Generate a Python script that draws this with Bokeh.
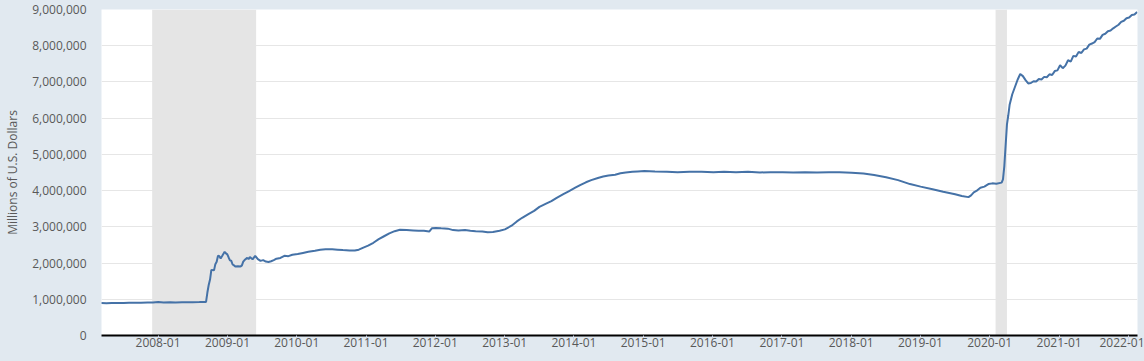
import pandas as pd
from bokeh.plotting import figure
from bokeh.models import (Range1d, FixedTicker, DatetimeTickFormatter,
                          NumeralTickFormatter, BoxAnnotation)
from bokeh.embed import file_html
from bokeh.resources import INLINE

# ---------------- data ----------------
dates = [
    "2007-03-07", "2007-04-04", "2007-05-02", "2007-06-06", "2007-07-04", "2007-08-01",
    "2007-08-29", "2007-10-03", "2007-11-07", "2007-12-05", "2008-01-02", "2008-01-30",
    "2008-03-05", "2008-04-02", "2008-05-07", "2008-06-04", "2008-07-02", "2008-08-06",
    "2008-09-10", "2008-09-17", "2008-09-24", "2008-10-01", "2008-10-08", "2008-10-22",
    "2008-10-29", "2008-11-05", "2008-11-12", "2008-11-19", "2008-11-26", "2008-12-03",
    "2008-12-10", "2008-12-17", "2008-12-24", "2008-12-31", "2009-01-07", "2009-01-14",
    "2009-01-21", "2009-01-28", "2009-02-04", "2009-02-11", "2009-02-25", "2009-03-11",
    "2009-03-18", "2009-03-25", "2009-04-01", "2009-04-15", "2009-04-22", "2009-04-29",
    "2009-05-13", "2009-05-27", "2009-06-10", "2009-06-24", "2009-07-08", "2009-07-22",
    "2009-08-05", "2009-08-19", "2009-09-02", "2009-09-16", "2009-10-07", "2009-10-28",
    "2009-11-18", "2009-12-09", "2010-01-06", "2010-02-03", "2010-03-03", "2010-04-07",
    "2010-05-05", "2010-06-02", "2010-07-07", "2010-08-04", "2010-09-01", "2010-10-06",
    "2010-11-03", "2010-11-24", "2010-12-15", "2011-01-12", "2011-02-09", "2011-03-09",
    "2011-04-06", "2011-05-04", "2011-06-01", "2011-06-29", "2011-08-03", "2011-09-07",
    "2011-10-05", "2011-11-02", "2011-11-30", "2011-12-14", "2012-01-04", "2012-02-01",
    "2012-03-07", "2012-04-04", "2012-05-02", "2012-06-06", "2012-07-04", "2012-08-01",
    "2012-09-05", "2012-10-03", "2012-10-31", "2012-12-05", "2013-01-02", "2013-02-06",
    "2013-03-06", "2013-04-03", "2013-05-08", "2013-06-05", "2013-07-03", "2013-08-07",
    "2013-09-04", "2013-10-02", "2013-11-06", "2013-12-04", "2014-01-08", "2014-02-05",
    "2014-03-05", "2014-04-02", "2014-05-07", "2014-06-04", "2014-07-02", "2014-08-06",
    "2014-09-03", "2014-10-01", "2014-11-05", "2014-12-03", "2015-01-07", "2015-03-04",
    "2015-05-06", "2015-07-01", "2015-09-02", "2015-11-04", "2016-01-06", "2016-03-02",
    "2016-05-04", "2016-07-06", "2016-09-07", "2016-11-02", "2017-01-04", "2017-03-01",
    "2017-05-03", "2017-07-05", "2017-09-06", "2017-11-01", "2018-01-03", "2018-03-07",
    "2018-05-02", "2018-07-04", "2018-09-05", "2018-11-07", "2019-01-02", "2019-03-06",
    "2019-05-01", "2019-07-03", "2019-08-07", "2019-09-11", "2019-09-25", "2019-10-09",
    "2019-10-23", "2019-11-13", "2019-12-04", "2019-12-25", "2020-01-15", "2020-02-05",
    "2020-03-04", "2020-03-11", "2020-03-18", "2020-03-25", "2020-04-01", "2020-04-08",
    "2020-04-15", "2020-04-29", "2020-05-13", "2020-05-27", "2020-06-10", "2020-06-24",
    "2020-07-08", "2020-07-22", "2020-08-05", "2020-08-19", "2020-09-02", "2020-09-16",
    "2020-09-30", "2020-10-14", "2020-10-28", "2020-11-11", "2020-11-25", "2020-12-09",
    "2020-12-23", "2021-01-06", "2021-01-20", "2021-02-03", "2021-02-17", "2021-03-03",
    "2021-03-17", "2021-03-31", "2021-04-14", "2021-04-28", "2021-05-12", "2021-05-26",
    "2021-06-09", "2021-06-23", "2021-07-07", "2021-07-21", "2021-08-04", "2021-08-18",
    "2021-09-01", "2021-09-15", "2021-09-29", "2021-10-13", "2021-10-27", "2021-11-10",
    "2021-11-24", "2021-12-08", "2021-12-22", "2022-01-05", "2022-01-19", "2022-02-02",
    "2022-02-16",
]
values = [
    895000, 893000, 898000, 900000, 897000, 902000,
    905000, 903000, 908000, 912000, 925000, 912000,
    915000, 912000, 917000, 915000, 920000, 922000,
    928000, 1186000, 1393000, 1543000, 1812000, 1799000,
    1970000, 2034000, 2204000, 2187000, 2130000, 2187000,
    2250000, 2310000, 2268000, 2241000, 2154000, 2075000,
    2062000, 1960000, 1938000, 1903000, 1913000, 1904000,
    1936000, 2038000, 2083000, 2143000, 2109000, 2165000,
    2104000, 2200000, 2108000, 2060000, 2080000, 2040000,
    2030000, 2050000, 2080000, 2120000, 2140000, 2200000,
    2190000, 2230000, 2250000, 2280000, 2310000, 2340000,
    2370000, 2380000, 2380000, 2370000, 2360000, 2350000,
    2345000, 2370000, 2420000, 2480000, 2560000, 2660000,
    2740000, 2820000, 2880000, 2920000, 2910000, 2900000,
    2890000, 2890000, 2870000, 2960000, 2970000, 2960000,
    2950000, 2910000, 2900000, 2910000, 2890000, 2880000,
    2870000, 2850000, 2860000, 2890000, 2930000, 3030000,
    3150000, 3250000, 3360000, 3440000, 3550000, 3640000,
    3710000, 3800000, 3900000, 3980000, 4080000, 4160000,
    4230000, 4290000, 4350000, 4390000, 4420000, 4440000,
    4480000, 4500000, 4520000, 4530000, 4540000, 4530000,
    4520000, 4510000, 4520000, 4520000, 4510000, 4520000,
    4510000, 4520000, 4500000, 4510000, 4510000, 4500000,
    4510000, 4500000, 4510000, 4510000, 4490000, 4470000,
    4430000, 4370000, 4290000, 4180000, 4110000, 4040000,
    3970000, 3900000, 3850000, 3820000, 3870000, 3950000,
    3990000, 4080000, 4110000, 4180000, 4200000, 4190000,
    4220000, 4310000, 4670000, 5250000, 5830000, 6080000,
    6370000, 6660000, 6860000, 7060000, 7220000, 7160000,
    7050000, 6960000, 6970000, 7020000, 7010000, 7080000,
    7070000, 7140000, 7130000, 7210000, 7190000, 7300000,
    7320000, 7460000, 7380000, 7450000, 7600000, 7560000,
    7720000, 7700000, 7830000, 7800000, 7900000, 7920000,
    8030000, 8060000, 8100000, 8200000, 8190000, 8300000,
    8330000, 8400000, 8420000, 8480000, 8530000, 8580000,
    8660000, 8690000, 8760000, 8780000, 8850000, 8860000,
    8930000,
]
rec_start = ["2007-12-01", "2020-02-01"]
rec_end = ["2009-06-01", "2020-04-01"]
x_ticks = ["2008-01", "2009-01", "2010-01", "2011-01", "2012-01", "2013-01", "2014-01",
           "2015-01", "2016-01", "2017-01", "2018-01", "2019-01", "2020-01", "2021-01",
           "2022-01"]
y_ticks = [0, 1000000, 2000000, 3000000, 4000000, 5000000, 6000000, 7000000, 8000000, 9000000]
x_start, x_end = "2007-03-09", "2022-02-18"
y_label = "Millions of U.S. Dollars"

# ---------------- figure ----------------
def ms(s):
    return pd.Timestamp(s).value / 1e6

FONT = "Open Sans"
TXT = "#595959"

p = figure(width=1144, height=361, x_axis_type="datetime",
           output_backend="svg", toolbar_location=None,
           x_range=Range1d(ms(x_start), ms(x_end)),
           y_range=Range1d(y_ticks[0], y_ticks[-1]),
           min_border_left=101, min_border_right=7,
           min_border_top=9, min_border_bottom=26,
           background_fill_color="white", border_fill_color="#e1e9f0",
           outline_line_color=None)

for s, e in zip(rec_start, rec_end):
    p.add_layout(BoxAnnotation(left=ms(s), right=ms(e), fill_color="#e5e5e5",
                               fill_alpha=1.0, line_color=None, level="underlay"))

p.line(x=[ms(d) for d in dates], y=values, line_color="#4572a7", line_width=2)

# grids
p.xgrid.visible = False
p.ygrid.level = "image"
p.ygrid.grid_line_color = "#e6e6e6"
p.ygrid.grid_line_width = 1

# x axis
xa = p.xaxis[0]
xa.ticker = FixedTicker(ticks=[ms(t + "-01") for t in x_ticks], minor_ticks=[])
fmt = "%Y-%m"
xa.formatter = DatetimeTickFormatter(years=fmt, months=fmt, days=fmt, hours=fmt,
                                     minutes=fmt, seconds=fmt, milliseconds=fmt,
                                     microseconds=fmt, minsec=fmt, hourmin=fmt)
xa.axis_line_color = "black"
xa.axis_line_width = 2
xa.major_tick_line_color = "#ccd6eb"
xa.major_tick_in = 0
xa.major_tick_out = 10
xa.minor_tick_line_color = None
xa.major_label_standoff = -8
xa.major_label_text_font = FONT
xa.major_label_text_font_size = "12px"
xa.major_label_text_color = TXT

# y axis
ya = p.yaxis[0]
ya.ticker = FixedTicker(ticks=y_ticks, minor_ticks=[])
ya.formatter = NumeralTickFormatter(format="0,0")
ya.axis_line_color = None
ya.major_tick_line_color = None
ya.minor_tick_line_color = None
ya.major_tick_in = 0
ya.major_tick_out = 0
ya.major_label_standoff = 15
ya.major_label_text_font = FONT
ya.major_label_text_font_size = "12px"
ya.major_label_text_color = TXT
ya.axis_label = y_label
ya.axis_label_standoff = 8
ya.axis_label_text_font = FONT
ya.axis_label_text_font_size = "12px"
ya.axis_label_text_font_style = "normal"
ya.axis_label_text_color = TXT

TEMPLATE = """{% block preamble %}<style>html, body { margin: 0 !important; padding: 0 !important; background: #e1e9f0; overflow: hidden; }</style>{% endblock %}"""

open("out.html", "w").write(file_html(p, INLINE, template=TEMPLATE))
